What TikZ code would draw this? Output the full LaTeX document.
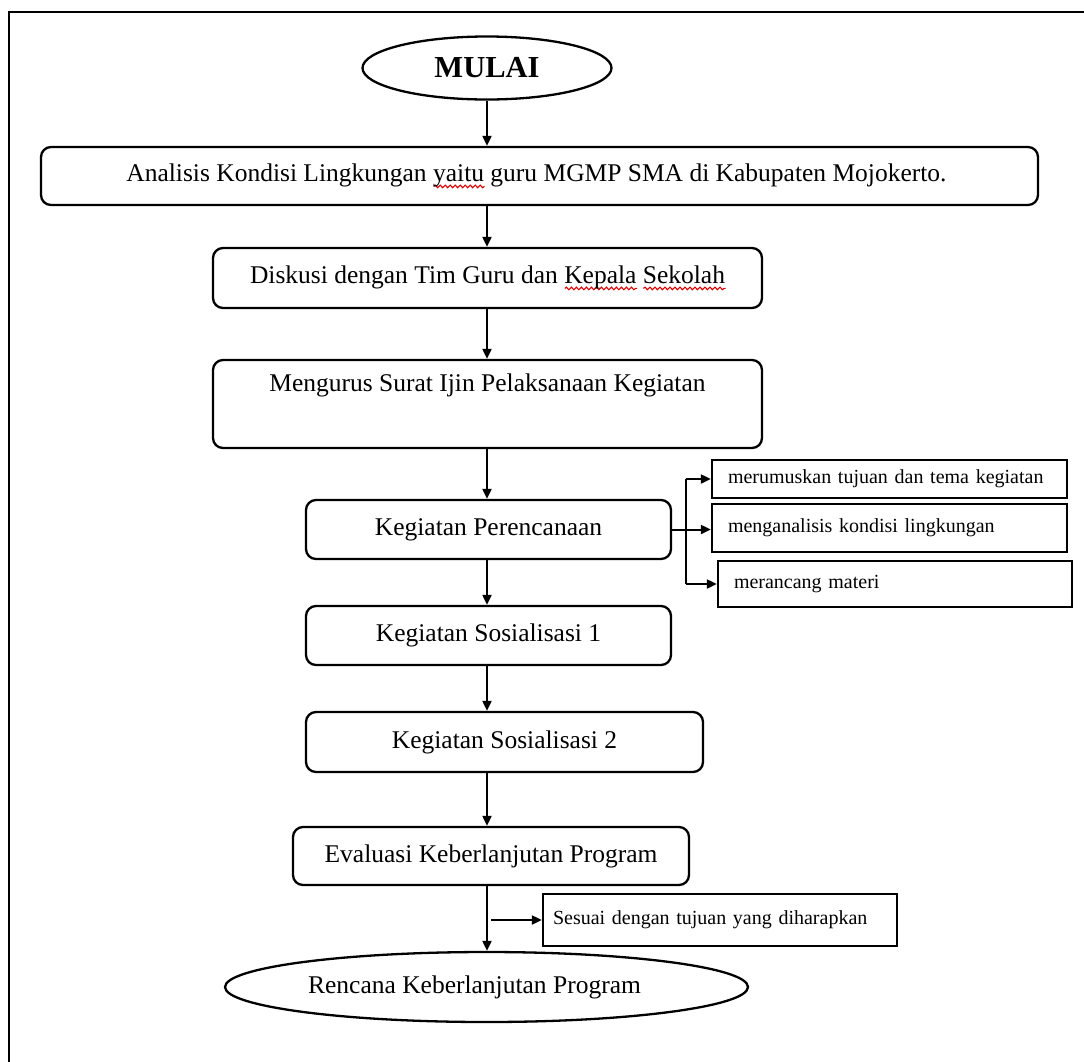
\documentclass[tikz,border=0pt]{standalone}
\usepackage{fontspec}
\setmainfont{Liberation Serif}
\usetikzlibrary{shapes.geometric,arrows.meta,calc,decorations.pathmorphing}
\newsavebox\errbox
\newcommand\spellerr[1]{\sbox\errbox{#1}\edef\errw{\the\wd\errbox}%
  \makebox[0pt][l]{\tikz[x=1pt,y=1pt,baseline=0pt,sharp corners]{\draw[red!85!black, line width=1.1pt,
    sharp corners, decorate, decoration={snake, amplitude=1.3pt, segment length=5pt}]
    (0pt,-5pt) -- (\errw,-5pt);}}#1}
\tikzset{
  frameline/.style={line width=2.6pt, line cap=rect},
  mainbox/.style={draw, line width=2.3pt, rounded corners=10pt, inner sep=0pt,
    font=\fontsize{25.5}{32}\selectfont, align=center},
  sidebox/.style={draw, line width=2.3pt, inner xsep=16pt, inner ysep=0pt,
    font=\fontsize{20}{24}\selectfont, align=left},
  endpoint/.style={draw, ellipse, line width=2.3pt, inner sep=0pt},
  arr/.style={line width=2pt, -{Triangle[length=10pt,width=9pt]}},
  conn/.style={line width=2pt}
}
\begin{document}
\begin{tikzpicture}[x=1pt,y=-1pt]
\useasboundingbox (0,0) rectangle (1084,1061);
% outer frame (only top and left edges are visible)
\draw[frameline] (9,1070) -- (9,12) -- (1090,12);

\node[endpoint, minimum width=249pt, minimum height=63pt,
  font=\fontsize{30.5}{36}\selectfont\bfseries] (m) at (487,68) {MULAI};
\node[mainbox, minimum width=997pt, minimum height=58pt] (b1) at (539.5,176)
  {Analisis Kondisi Lingkungan \spellerr{yaitu} guru MGMP SMA di Kabupaten Mojokerto.\hspace*{6pt}};
\node[mainbox, minimum width=549pt, minimum height=60pt] (b2) at (487.5,278)
  {Diskusi dengan Tim Guru dan \spellerr{Kepala} \spellerr{Sekolah}};
\node[mainbox, minimum width=549pt, minimum height=88pt] (b3) at (487.5,404)
  {Mengurus Surat Ijin Pelaksanaan Kegiatan\\[2pt]\strut};
\node[mainbox, minimum width=365pt, minimum height=59pt] (b4) at (488.5,529.5)
  {Kegiatan Perencanaan};
\node[mainbox, minimum width=365pt, minimum height=59pt] (b5) at (488.5,635.5)
  {Kegiatan Sosialisasi 1};
\node[mainbox, minimum width=397pt, minimum height=60pt] (b6) at (504.5,742)
  {Kegiatan Sosialisasi 2};
\node[mainbox, minimum width=396pt, minimum height=58pt] (b7) at (491,856)
  {Evaluasi Keberlanjutan Program};
\node[endpoint, minimum width=523pt, minimum height=70pt,
  font=\fontsize{25.5}{30}\selectfont] (e) at (486.5,987)
  {Rencana Keberlanjutan Program\hspace*{24pt}};

\node[sidebox, text width=323pt, minimum height=38pt] (s1) at (889.5,479)
  {merumuskan tujuan dan tema kegiatan};
\node[sidebox, text width=323pt, minimum height=48pt] (s2) at (889.5,528)
  {menganalisis kondisi lingkungan};
\node[sidebox, text width=322pt, minimum height=46pt] (s3) at (895,584)
  {merancang materi};
\node[sidebox, inner xsep=10pt, text width=334pt, minimum height=52pt] (s4) at (720,920)
  {Sesuai dengan tujuan yang diharapkan};

% main flow
\draw[arr] (m.south) -- (m.south |- b1.north);
\draw[arr] (b1.south -| m.south) -- (b2.north -| m.south);
\draw[arr] (b2.south -| m.south) -- (b3.north -| m.south);
\draw[arr] (b3.south -| m.south) -- (b4.north -| m.south);
\draw[arr] (b4.south -| m.south) -- (b5.north -| m.south);
\draw[arr] (b5.south -| m.south) -- (b6.north -| m.south);
\draw[arr] (b6.south -| m.south) -- (b7.north -| m.south);
\draw[arr] (b7.south -| m.south) -- (e.north -| m.south);

% branch from Kegiatan Perencanaan
\coordinate (j) at (686,529.5);
\draw[conn] (b4.east) -- (j);
\draw[arr] (j) -- (s2.west |- j);
\draw[conn] (j |- s1.west) -- (j |- s3.west);
\draw[arr] (j |- s1.west) -- (s1.west);
\draw[arr] (j |- s3.west) -- (s3.west);

% branch to Sesuai
\coordinate (k) at ($(s4.west -| m.south)+(4,0)$);
\draw[arr] (k) -- (s4.west);
\end{tikzpicture}
\end{document}
